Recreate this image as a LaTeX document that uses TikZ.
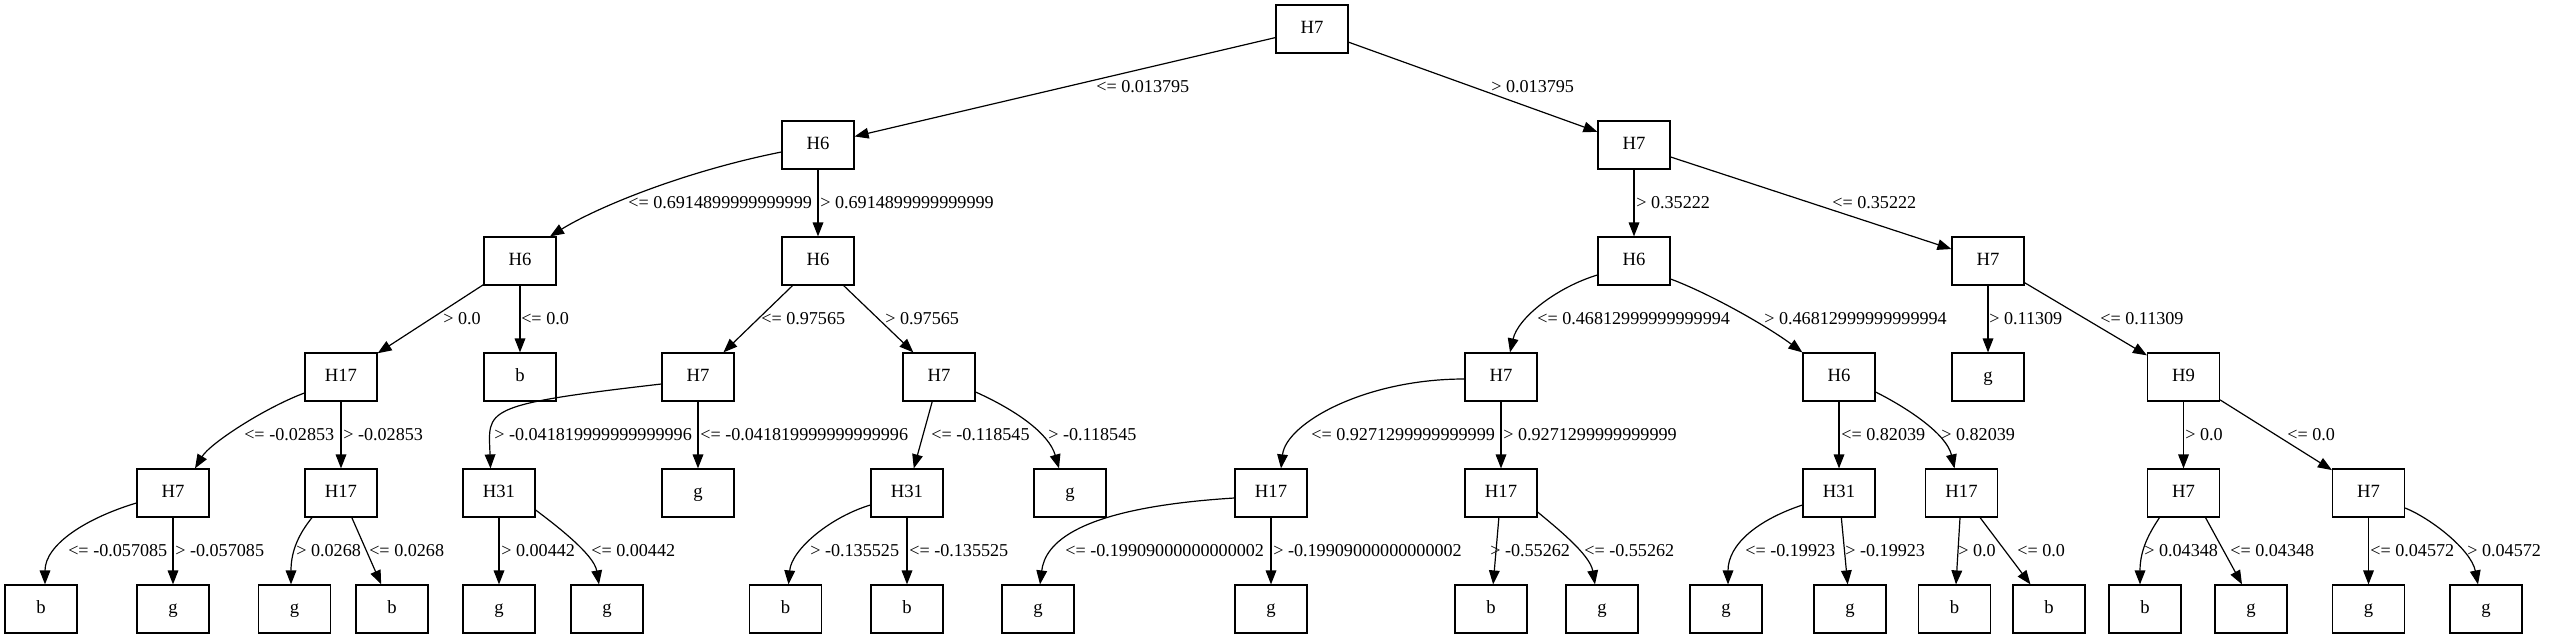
\documentclass[tikz,border=0pt]{standalone}
\usepackage{fontspec}
\setmainfont{Liberation Serif}
\usetikzlibrary{arrows.meta,calc}
\tikzset{
  box/.style={draw, line width=0.9pt, minimum width=54pt, minimum height=36pt, inner sep=0pt,
    text height=0.662em, text depth=0pt, font=\fontsize{14}{16}\selectfont},
  lbl/.style={anchor=west, inner sep=0pt, font=\fontsize{13.6}{16}\selectfont},
  e/.style={draw, line width=0.9pt, -{Triangle[length=10.5pt,width=8pt]}}
}
\begin{document}
\begin{tikzpicture}[x=0.75pt,y=-0.75pt]
\useasboundingbox (0,0) rectangle (2553,639);
% level 0
\node[box] (n0) at (1312,29) {H7};
% level 1
\node[box] (n1) at (818,145) {H6};
\node[box] (n2) at (1634,145) {H7};
% level 2
\node[box] (n3) at (520,261) {H6};
\node[box] (n4) at (818,261) {H6};
\node[box] (n5) at (1634,261) {H6};
\node[box] (n6) at (1988,261) {H7};
% level 3
\node[box] (n7) at (341,377) {H17};
\node[box] (n8) at (520,377) {b};
\node[box] (n9) at (698,377) {H7};
\node[box] (n10) at (939,377) {H7};
\node[box] (n11) at (1501,377) {H7};
\node[box] (n12) at (1839,377) {H6};
\node[box] (n13) at (1988,377) {g};
\node[box] (n14) at (2183.5,377) {H9};
% level 4
\node[box] (n15) at (173,493) {H7};
\node[box] (n16) at (341,493) {H17};
\node[box] (n17) at (499,493) {H31};
\node[box] (n18) at (698,493) {g};
\node[box] (n19) at (907,493) {H31};
\node[box] (n20) at (1070,493) {g};
\node[box] (n21) at (1271,493) {H17};
\node[box] (n22) at (1501,493) {H17};
\node[box] (n23) at (1839,493) {H31};
\node[box] (n24) at (1961.5,493) {H17};
\node[box] (n25) at (2183.5,493) {H7};
\node[box] (n26) at (2368.5,493) {H7};
% level 5
\node[box] (n27) at (41,609) {b};
\node[box] (n28) at (173,609) {g};
\node[box] (n29) at (294.5,609) {g};
\node[box] (n30) at (392,609) {b};
\node[box] (n31) at (499,609) {g};
\node[box] (n32) at (607,609) {g};
\node[box] (n33) at (785.5,609) {b};
\node[box] (n34) at (907,609) {b};
\node[box] (n35) at (1038,609) {g};
\node[box] (n36) at (1271,609) {g};
\node[box] (n37) at (1491,609) {b};
\node[box] (n38) at (1602,609) {g};
\node[box] (n39) at (1726,609) {g};
\node[box] (n40) at (1850,609) {g};
\node[box] (n41) at (1954.5,609) {b};
\node[box] (n42) at (2049,609) {b};
\node[box] (n43) at (2145,609) {b};
\node[box] (n44) at (2251,609) {g};
\node[box] (n45) at (2368.5,609) {g};
\node[box] (n46) at (2486,609) {g};
% edges
\draw[e] (n0) -- (n1);
\draw[e] (n0) -- (n2);
\draw[e] ($(n1.west)+(0,7)$) .. controls +(-100,20) and +(45,-28) .. ($(n3.north)+(30,0)$);
\draw[e] (n1) -- (n4);
\draw[e] (n2) -- (n5);
\draw[e] (n2) -- (n6);
\draw[e] (n3) -- (n7);
\draw[e] (n3) -- (n8);
\draw[e] (n4) -- (n9);
\draw[e] (n4) -- (n10);
\draw[e] ($(n5.west)+(0,14)$) .. controls +(-40,12) and +(8,-35) .. ($(n11.north)+(9,0)$);
\draw[e] ($(n5.east)+(0,18)$) .. controls +(40,15) and +(-35,-26) .. (n12.north west);
\draw[e] (n6) -- (n13);
\draw[e] (n6) -- (n14);
\draw[e] ($(n7.west)+(0,16)$) .. controls +(-40,15) and +(15,-25) .. ($(n15.north)+(22,0)$);
\draw[e] (n7) -- (n16);
\draw[e] ($(n9.west)+(0,7)$) .. controls +(-182,21) and +(-2,-59) .. ($(n17.north)+(-8.5,0)$);
\draw[e] (n9) -- (n18);
\draw[e] (n10) -- (n19);
\draw[e] ($(n10.east)+(0,15)$) .. controls +(40,18) and +(-10,-35) .. ($(n20.north)+(-11,0)$);
\draw[e] ($(n11.west)+(0,2)$) .. controls +(-100,0) and +(5,-45) .. ($(n21.north)+(10,0)$);
\draw[e] (n11) -- (n22);
\draw[e] (n12) -- (n23);
\draw[e] ($(n12.east)+(0,15)$) .. controls +(30,15) and +(-8,-35) .. ($(n24.north)+(-7,0)$);
\draw[e] (n14) -- (n25);
\draw[e] (n14) -- (n26);
\draw[e] ($(n15.west)+(0,10)$) .. controls +(-50,15) and +(0,-40) .. ($(n27.north)+(4,0)$);
\draw[e] (n15) -- (n28);
\draw[e] ($(n16.south)+(-29,0)$) .. controls +(-12,15) and +(0,-35) .. ($(n29.north)+(-3.5,0)$);
\draw[e] (n16) -- (n30);
\draw[e] (n17) -- (n31);
\draw[e] ($(n17.east)+(0,17)$) .. controls +(20,15) and +(-5,-30) .. ($(n32.north)+(-8,0)$);
\draw[e] ($(n19.west)+(0,12)$) .. controls +(-40,12) and +(3,-35) .. ($(n33.north)+(3,0)$);
\draw[e] (n19) -- (n34);
\draw[e] ($(n21.west)+(0,5)$) .. controls +(-160,10) and +(5,-40) .. ($(n35.north)+(2,0)$);
\draw[e] (n21) -- (n36);
\draw[e] (n22) -- (n37);
\draw[e] ($(n22.east)+(0,19)$) .. controls +(18,15) and +(-5,-30) .. ($(n38.north)+(-7,0)$);
\draw[e] ($(n23.west)+(0,12)$) .. controls +(-45,15) and +(0,-40) .. ($(n39.north)+(2,0)$);
\draw[e] (n23) -- (n40);
\draw[e] (n24) -- (n41);
\draw[e] (n24) -- (n42);
\draw[e] ($(n25.south)+(-24,0)$) .. controls +(-10,15) and +(0,-35) .. ($(n43.north)+(-5,0)$);
\draw[e] ($(n25.south)+(22,0)$) -- ($(n44.north)+(-9,0)$);
\draw[e] (n26) -- (n45);
\draw[e] ($(n26.east)+(0,15)$) .. controls +(25,10) and +(-7,-35) .. ($(n46.north)+(-8,0)$);
% labels
\node[lbl] (l1) at (1096,87) {<= 0.013795};
\node[lbl] (l2) at (1491,87) {> 0.013795};
\node[lbl] (l3) at (628,203) {<= 0.6914899999999999};
\node[lbl] (l4) at (820,203) {> 0.6914899999999999};
\node[lbl] (l5) at (1636,203) {> 0.35222};
\node[lbl] (l6) at (1832,203) {<= 0.35222};
\node[lbl] (l7) at (443,319) {> 0.0};
\node[lbl] (l8) at (521,319) {<= 0.0};
\node[lbl] (l9) at (761,319) {<= 0.97565};
\node[lbl] (l10) at (885,319) {> 0.97565};
\node[lbl] (l11) at (1537,319) {<= 0.46812999999999994};
\node[lbl] (l12) at (1764,319) {> 0.46812999999999994};
\node[lbl] (l13) at (1989,319) {> 0.11309};
\node[lbl] (l14) at (2100,319) {<= 0.11309};
\node[lbl] (l15) at (244,435) {<= -0.02853};
\node[lbl] (l16) at (343,435) {> -0.02853};
\node[lbl] (l17) at (494,435) {> -0.041819999999999996};
\node[lbl] (l18) at (700,435) {<= -0.041819999999999996};
\node[lbl] (l19) at (931,435) {<= -0.118545};
\node[lbl] (l20) at (1048,435) {> -0.118545};
\node[lbl] (l21) at (1311,435) {<= 0.9271299999999999};
\node[lbl] (l22) at (1503,435) {> 0.9271299999999999};
\node[lbl] (l23) at (1841,435) {<= 0.82039};
\node[lbl] (l24) at (1941,435) {> 0.82039};
\node[lbl] (l25) at (2185,435) {> 0.0};
\node[lbl] (l26) at (2287,435) {<= 0.0};
\node[lbl] (l27) at (68,551) {<= -0.057085};
\node[lbl] (l28) at (175,551) {> -0.057085};
\node[lbl] (l29) at (296,551) {> 0.0268};
\node[lbl] (l30) at (369,551) {<= 0.0268};
\node[lbl] (l31) at (501,551) {> 0.00442};
\node[lbl] (l32) at (591,551) {<= 0.00442};
\node[lbl] (l33) at (810,551) {> -0.135525};
\node[lbl] (l34) at (909,551) {<= -0.135525};
\node[lbl] (l35) at (1065,551) {<= -0.19909000000000002};
\node[lbl] (l36) at (1273,551) {> -0.19909000000000002};
\node[lbl] (l37) at (1490,551) {> -0.55262};
\node[lbl] (l38) at (1584,551) {<= -0.55262};
\node[lbl] (l39) at (1745,551) {<= -0.19923};
\node[lbl] (l40) at (1845,551) {> -0.19923};
\node[lbl] (l41) at (1958,551) {> 0.0};
\node[lbl] (l42) at (2017,551) {<= 0.0};
\node[lbl] (l43) at (2144,551) {> 0.04348};
\node[lbl] (l44) at (2230,551) {<= 0.04348};
\node[lbl] (l45) at (2370,551) {<= 0.04572};
\node[lbl] (l46) at (2467,551) {> 0.04572};
\end{tikzpicture}
\end{document}
